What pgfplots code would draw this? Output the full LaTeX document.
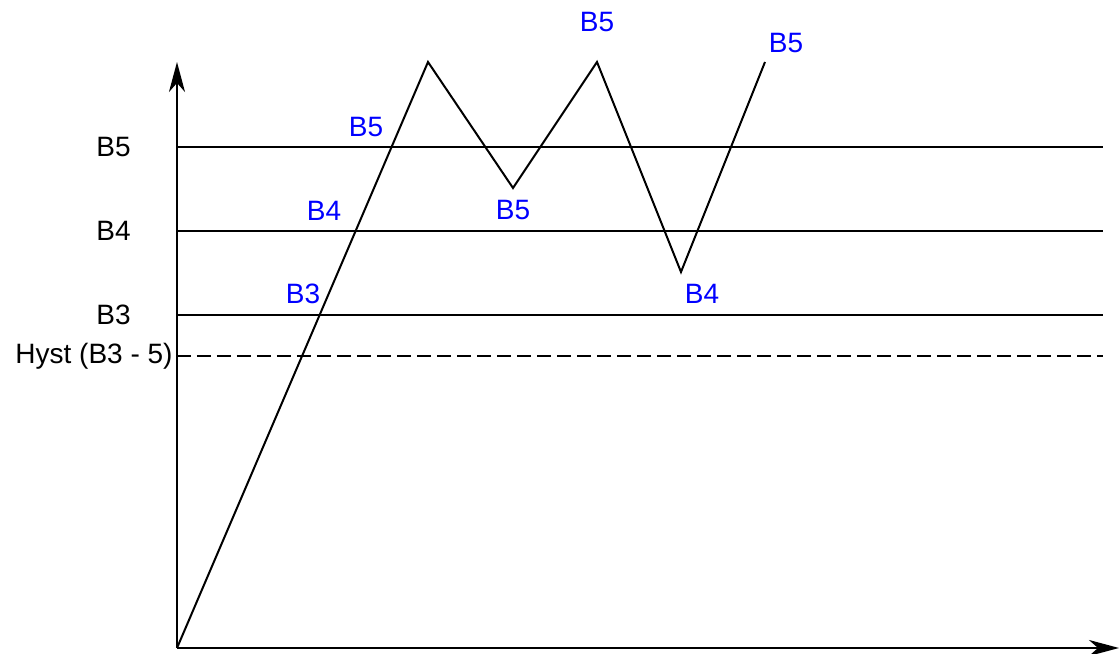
\documentclass[border=0pt]{standalone}
\usepackage{fontspec}
\setmainfont{Liberation Sans}
\usepackage{pgfplots}
\pgfplotsset{compat=1.18}
\usetikzlibrary{arrows.meta}

% data in pixel units of the reference: x = px - 177, y = 648 - py
\pgfplotstableread{
x y
0 0
251 586
336 460
420 586
504 376
588 586
}\zigzag

\begin{document}
\begin{tikzpicture}[font=\fontsize{14bp}{16bp}\selectfont]
  \begin{axis}[
    x=0.5bp, y=0.5bp,
    xmin=0, xmax=942, ymin=0, ymax=586,
    axis lines=left,
    axis line style={line width=1.1bp, -{Stealth[length=15bp, width=8bp, inset=4.5bp]}},
    xtick=\empty, ytick=\empty,
    clip=false,
    cycle list={{black}},
    every axis plot/.append style={line width=1bp},
    no markers,
  ]
    % thresholds
    \addplot coordinates {(0,501) (926,501)};
    \addplot coordinates {(0,417) (926,417)};
    \addplot coordinates {(0,333) (926,333)};
    \addplot+[dash pattern=on 7bp off 3bp] coordinates {(0,292) (926,292)};
    % signal
    \addplot table {\zigzag};

    % threshold names
    \node[anchor=east, inner sep=0pt] at (axis cs:-46,501) {B5};
    \node[anchor=east, inner sep=0pt] at (axis cs:-46,417) {B4};
    \node[anchor=east, inner sep=0pt] at (axis cs:-46,333) {B3};
    \node[anchor=east, inner sep=0pt] at (axis cs:-4,292) {Hyst (B3 - 5)};

    % band labels
    \begin{scope}[every node/.style={text=blue, inner sep=0pt}]
      \node at (axis cs:189,521) {B5};
      \node at (axis cs:147,437) {B4};
      \node at (axis cs:126,354) {B3};
      \node at (axis cs:336,438) {B5};
      \node at (axis cs:420,626) {B5};
      \node at (axis cs:525,354) {B4};
      \node at (axis cs:609,605) {B5};
    \end{scope}

    \coordinate (bl) at (axis cs:-177,-6);
    \coordinate (tr) at (axis cs:942,648);
  \end{axis}
  \pgfresetboundingbox
  \useasboundingbox (bl) rectangle (tr);
\end{tikzpicture}
\end{document}
